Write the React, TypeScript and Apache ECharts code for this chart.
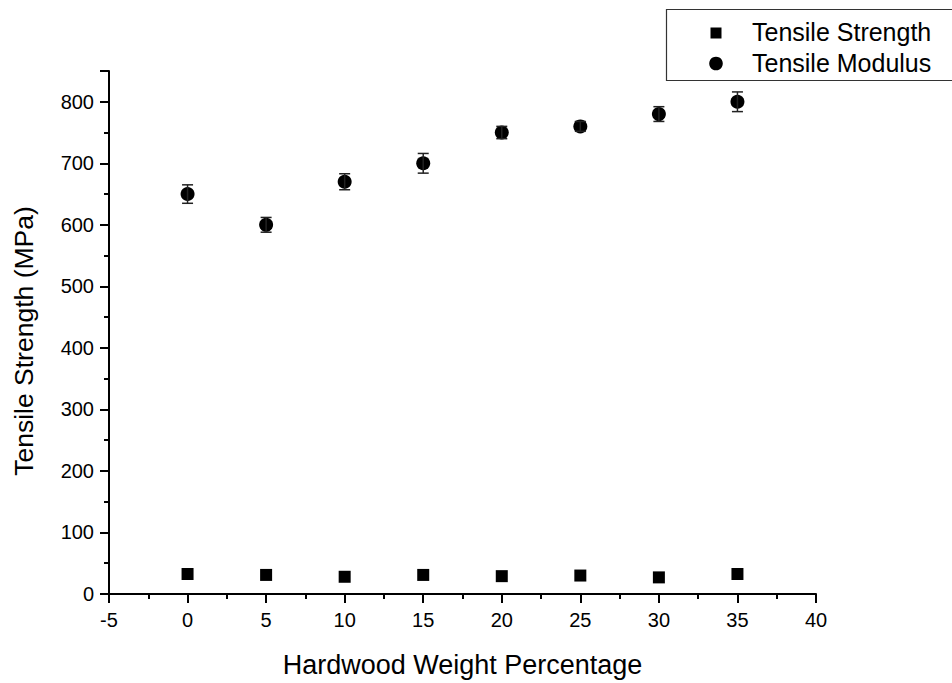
import React, { useEffect, useRef } from "react";
import * as echarts from "echarts";

const xValues = [0, 5, 10, 15, 20, 25, 30, 35];
const strength = [32.5, 31, 28, 31, 29, 30, 27, 32.5];
const modulus = [650, 600, 670, 700, 750, 760, 780, 800];
const modulusErr = [15, 12, 13, 16, 10, 8, 12, 16];
const legendNames = ["Tensile Strength", "Tensile Modulus"];
const xAxisName = "Hardwood Weight Percentage";
const yAxisName = "Tensile Strength (MPa)";

const FONT = "'Liberation Sans', Arial, sans-serif";

export default function App() {
  const ref = useRef<HTMLDivElement>(null);
  useEffect(() => {
    if (!ref.current) return;
    const chart = echarts.init(ref.current, null, { renderer: "svg" });
    const errData = xValues.map((x, i) => [x, modulus[i] - modulusErr[i], modulus[i] + modulusErr[i]]);
    const axisCommon = {
      splitLine: { show: false },
      axisLine: { show: true, onZero: false, lineStyle: { color: "#000", width: 2 } },
      axisTick: { show: true, inside: false, length: 9, lineStyle: { color: "#000", width: 2 } },
      minorTick: { show: true, splitNumber: 2, length: 5, lineStyle: { color: "#000", width: 2 } },
    };
    chart.setOption({
      animation: false,
      textStyle: { fontFamily: FONT },
      grid: { left: 109, right: 136, top: 71, bottom: 89 },
      graphic: [
        {
          type: "rect",
          shape: { x: 666.5, y: 9.5, width: 300, height: 71 },
          style: { fill: "#fff", stroke: "#333", lineWidth: 1.2 },
          z: 10,
        },
        {
          type: "rect",
          shape: { x: 710.5, y: 27.5, width: 11, height: 11 },
          style: { fill: "#000" },
          z: 11,
        },
        {
          type: "circle",
          shape: { cx: 716, cy: 63.5, r: 6.8 },
          style: { fill: "#000" },
          z: 11,
        },
        {
          type: "text",
          x: 752,
          y: 32,
          style: {
            text: legendNames[0],
            font: `25px ${FONT}`,
            fill: "#000",
            textAlign: "left",
            textVerticalAlign: "middle",
          },
          z: 11,
        },
        {
          type: "text",
          x: 752,
          y: 63,
          style: {
            text: legendNames[1],
            font: `25px ${FONT}`,
            fill: "#000",
            textAlign: "left",
            textVerticalAlign: "middle",
          },
          z: 11,
        },
        {
          type: "text",
          x: 24,
          y: 341,
          rotation: Math.PI / 2,
          style: {
            text: yAxisName,
            font: `26.5px ${FONT}`,
            fill: "#000",
            textAlign: "center",
            textVerticalAlign: "middle",
          },
        },
      ],
      xAxis: {
        type: "value",
        min: -5,
        max: 40,
        interval: 5,
        name: xAxisName,
        nameLocation: "middle",
        nameGap: 57,
        nameTextStyle: { fontSize: 27, color: "#000", fontFamily: FONT },
        ...axisCommon,
        axisLabel: { fontSize: 20, color: "#000", margin: 16, fontFamily: FONT },
      },
      yAxis: {
        type: "value",
        min: 0,
        max: 850,
        interval: 100,
        ...axisCommon,
        axisLabel: {
          fontSize: 20,
          color: "#000",
          margin: 15,
          fontFamily: FONT,
          showMaxLabel: false,
        },
      },
      series: [
        {
          name: legendNames[0],
          type: "scatter",
          symbol: "rect",
          symbolSize: 12,
          itemStyle: { color: "#000", opacity: 1 },
          data: xValues.map((x, i) => [x, strength[i]]),
          z: 3,
        },
        {
          name: legendNames[1],
          type: "scatter",
          symbol: "circle",
          symbolSize: 14,
          itemStyle: { color: "#000", opacity: 1 },
          data: xValues.map((x, i) => [x, modulus[i]]),
          z: 3,
        },
        {
          name: "err",
          type: "custom",
          data: errData,
          z: 4,
          renderItem: (params: any, api: any) => {
            const x = api.value(0);
            const lo = api.coord([x, api.value(1)]);
            const hi = api.coord([x, api.value(2)]);
            const hw = 5.5;
            const style = { stroke: "#222", lineWidth: 1.5 };
            return {
              type: "group",
              children: [
                { type: "line", shape: { x1: lo[0], y1: lo[1], x2: hi[0], y2: hi[1] }, style },
                { type: "line", shape: { x1: lo[0] - hw, y1: lo[1], x2: lo[0] + hw, y2: lo[1] }, style },
                { type: "line", shape: { x1: hi[0] - hw, y1: hi[1], x2: hi[0] + hw, y2: hi[1] }, style },
              ],
            };
          },
        },
      ],
    });
    return () => chart.dispose();
  }, []);
  return (
    <div
      ref={ref}
      style={{ position: "absolute", left: 0, top: 0, width: 952, height: 683, background: "#fff" }}
    />
  );
}
